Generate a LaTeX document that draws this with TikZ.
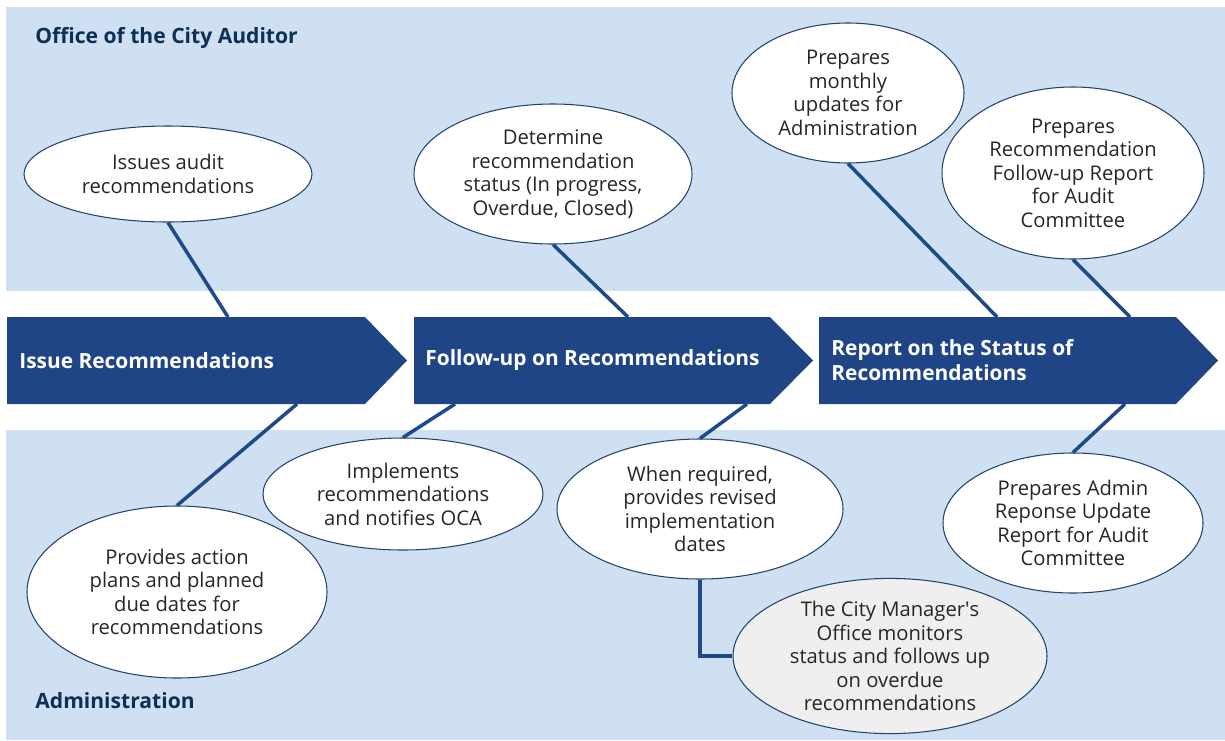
\documentclass[tikz,border=0pt]{standalone}
\usepackage{fontspec}
\setmainfont{Open Sans}
\usepackage{tikz}
\usetikzlibrary{shapes.geometric}

\definecolor{bandblue}{HTML}{CFE0F2}
\definecolor{phaseblue}{HTML}{1F4586}
\definecolor{linkblue}{HTML}{1F4A8A}
\definecolor{titleblue}{HTML}{0E2F56}
\definecolor{rimblue}{HTML}{24426E}
\definecolor{softgray}{HTML}{EFEFEF}

\begin{document}
\begin{tikzpicture}
	[
	align=center,
	bubble/.style={ellipse, draw=rimblue, line width=0.6pt, fill=white, inner sep=0pt,
		font=\fontsize{11.5}{13.4}\selectfont, text=black!85},
	phasetext/.style={anchor=west, align=left, text=white, inner sep=0pt,
		font=\bfseries\fontsize{11.9}{14.2}\selectfont},
	band/.style={anchor=west, inner sep=0pt, text=titleblue,
		font=\bfseries\fontsize{12}{14}\selectfont},
	link/.style={draw=linkblue, line width=2pt},
	]
		\useasboundingbox (0,0) rectangle (24.5,-14.8);
		
		% bands
		\fill[bandblue] (0.12,-0.14) rectangle (24.5,-5.82);
		\fill[bandblue] (0.12,-8.60) rectangle (24.5,-14.8);
		\node[band] (oca) at 		( 0.70, -0.76 ) {Office of the City Auditor};
		\node[band] (adm) at 		( 0.70,-14.02 ) {Administration};
		
		% attachment points on the phases
		\coordinate (t1) at 		( 4.56, -6.34 );
		\coordinate (b1) at 		( 5.94, -8.08 );
		\coordinate (t2) at 		(12.56, -6.34 );
		\coordinate (b2a) at 		( 9.10, -8.08 );
		\coordinate (b2b) at 		(14.94, -8.08 );
		\coordinate (t3a) at 		(19.94, -6.34 );
		\coordinate (t3b) at 		(22.60, -6.34 );
		\coordinate (b3) at 		(22.50, -8.08 );
		
		% office of the city auditor
		\node[bubble, minimum width=5.76cm, minimum height=1.92cm] (iss) at 	( 3.36, -3.48 ) {Issues audit\\recommendations};
		\node[bubble, minimum width=5.56cm, minimum height=2.80cm] (det) at 	(11.06, -3.48 ) {Determine\\recommendation\\status (In progress,\\Overdue, Closed)};
		\node[bubble, minimum width=4.64cm, minimum height=2.80cm] (mon) at 	(16.96, -1.86 ) {Prepares\\monthly\\updates for\\Administration};
		\node[bubble, minimum width=5.24cm, minimum height=3.44cm] (rep) at 	(21.46, -3.46 ) {Prepares\\Recommendation\\Follow-up Report\\for Audit\\Committee};
		
		% administration
		\node[bubble, minimum width=6.00cm, minimum height=3.44cm] (plan) at 	( 3.54,-11.84 ) {Provides action\\plans and planned\\due dates for\\recommendations};
		\node[bubble, minimum width=5.60cm, minimum height=2.24cm] (impl) at 	( 8.06, -9.88 ) {Implements\\recommendations\\and notifies OCA};
		\node[bubble, minimum width=5.72cm, minimum height=2.80cm] (rev) at 	(14.00,-10.18 ) {When required,\\provides revised\\implementation\\dates};
		\node[bubble, fill=softgray, minimum width=6.28cm, minimum height=3.08cm] (cmo) at 	(17.80,-13.12 ) {The City Manager\textquotesingle s\\Office monitors\\status and follows up\\on overdue\\recommendations};
		\node[bubble, minimum width=5.20cm, minimum height=2.80cm] (resp) at 	(21.46,-10.46 ) {Prepares Admin\\Reponse Update\\Report for Audit\\Committee};
		
		\foreach \from/\to in {iss.south/t1,b1/plan.north,det.south/t2,b2a/impl.north,b2b/rev.north,mon.south/t3a,rep.south/t3b,b3/resp.north} \draw[link] (\from) -- (\to);
		\draw[link] (rev.south) |- (cmo.west);
		
		% phases
		\foreach \xa/\xb/\xc in {0.14/7.30/8.14, 8.28/15.40/16.26, 16.38/23.52/24.36}
			\fill[phaseblue] (\xa,-6.34) -- (\xb,-6.34) -- (\xc,-7.21) -- (\xb,-8.08) -- (\xa,-8.08) -- cycle;
		\node[phasetext] (ph1) at 	( 0.38, -7.21 ) {Issue Recommendations};
		\node[phasetext] (ph2) at 	( 8.50, -7.21 ) {Follow-up on Recommendations};
		\node[phasetext] (ph3) at 	(16.62, -7.21 ) {Report on the Status of\\Recommendations};
		
	\end{tikzpicture}
\end{document}
